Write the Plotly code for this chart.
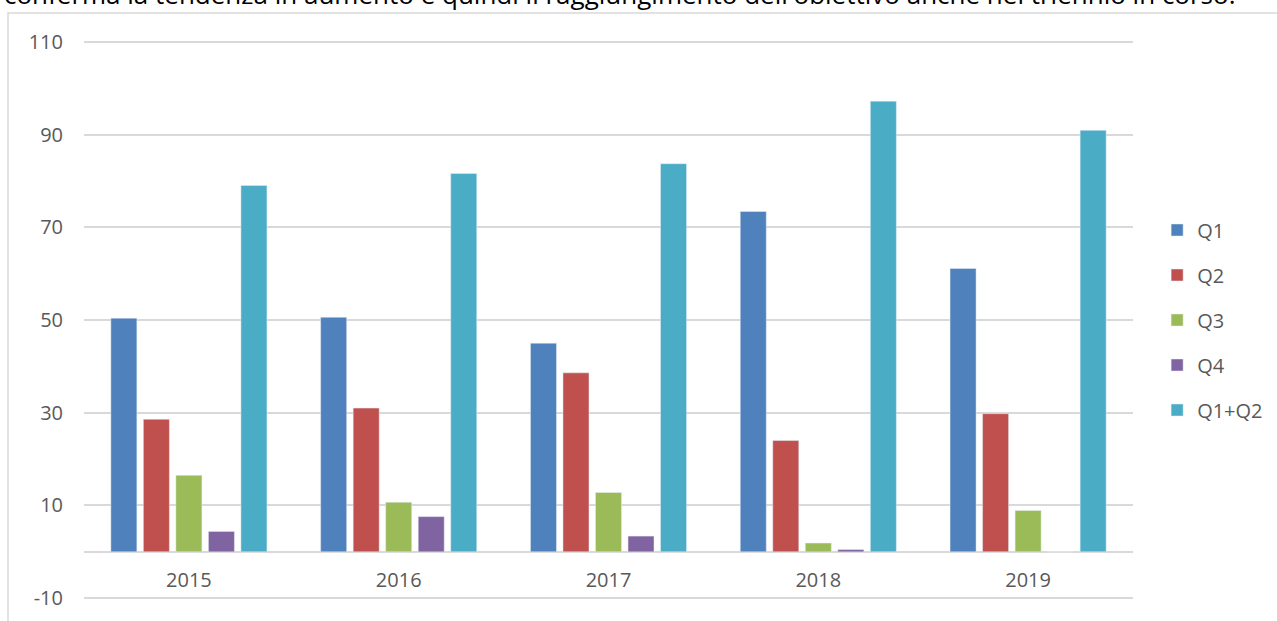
import plotly.graph_objects as go

## Données
annees = ["2015", "2016", "2017", "2018", "2019"]
q1 = [50.4, 50.6, 45.0, 73.4, 61.1]
q2 = [28.6, 31.0, 38.6, 24.0, 29.8]
q3 = [16.5, 10.7, 12.8, 1.9, 8.9]
q4 = [4.4, 7.6, 3.4, 0.5, 0]
q1_q2 = [79.0, 81.6, 83.7, 97.2, 90.9]

noms = ["Q1", "Q2", "Q3", "Q4", "Q1+Q2"]
couleurs = ["#4F81BD", "#C0504D", "#9BBB59", "#8064A2", "#4BACC6"]
y_ticks = [-10, 10, 30, 50, 70, 90, 110]
y_labels = ["-10", "10", "30", "50", "70", "90", "110"]

texte_haut = "conferma la tendenza in aumento e quindi il raggiungimento dell'obiettivo anche nel triennio in corso."

police = "Open Sans"
gris = "#595959"

fig = go.Figure()
for nom, serie, coul in zip(noms, [q1, q2, q3, q4, q1_q2], couleurs):
    fig.add_trace(go.Bar(x=annees, y=serie, name=nom, marker_color=coul,
                         legendgroup=nom))

# zone de tracé : x 84 -> 1133, y 39 -> 601 (110 à 42 px, -10 à 598 px)
fig.update_layout(
    width=1277, height=621,
    margin=dict(l=84, r=144, t=39, b=20, autoexpand=False),
    paper_bgcolor="white", plot_bgcolor="white",
    barmode="group", bargap=0.225, bargroupgap=0.2,
    font=dict(family=police, size=20, color=gris),
    legend=dict(x=1.023, y=0.5, xanchor="left", yanchor="middle",
                tracegroupgap=16, font=dict(size=20, color=gris)),
    showlegend=True,
)

fig.update_yaxes(range=[-10.6, 110.6], tickvals=y_ticks, ticktext=y_labels,
                 showgrid=True, gridcolor="#d9d9d9", gridwidth=1.5,
                 zeroline=True, zerolinecolor="#d9d9d9", zerolinewidth=2,
                 showline=False, ticklabelstandoff=20, automargin=False)
# axe des catégories posé sur la ligne du zéro
fig.update_xaxes(showgrid=False, showline=False, ticks="",
                 anchor="free", position=(601 - 551.5) / 562,
                 ticklabelstandoff=14, automargin=False)

# bordure du graphique (coupée à droite et en bas)
fig.add_shape(type="rect", xref="paper", yref="paper",
              x0=(8 - 84) / 1049, x1=1.5, y0=-0.5, y1=(601 - 13) / 562,
              line=dict(color="#d9d9d9", width=1.5), layer="below")

# texte du document au-dessus, coupé
fig.add_annotation(text=texte_haut, xref="paper", yref="paper",
                   x=(2 - 84) / 1049, y=(601 - 14) / 562,
                   xanchor="left", yanchor="bottom", showarrow=False,
                   font=dict(family=police, size=26, color="black"))

# pas de marge autour de la page
fig.write_html("out.html", config={"displayModeBar": False},
               post_script="document.body.style.margin='0px';")
